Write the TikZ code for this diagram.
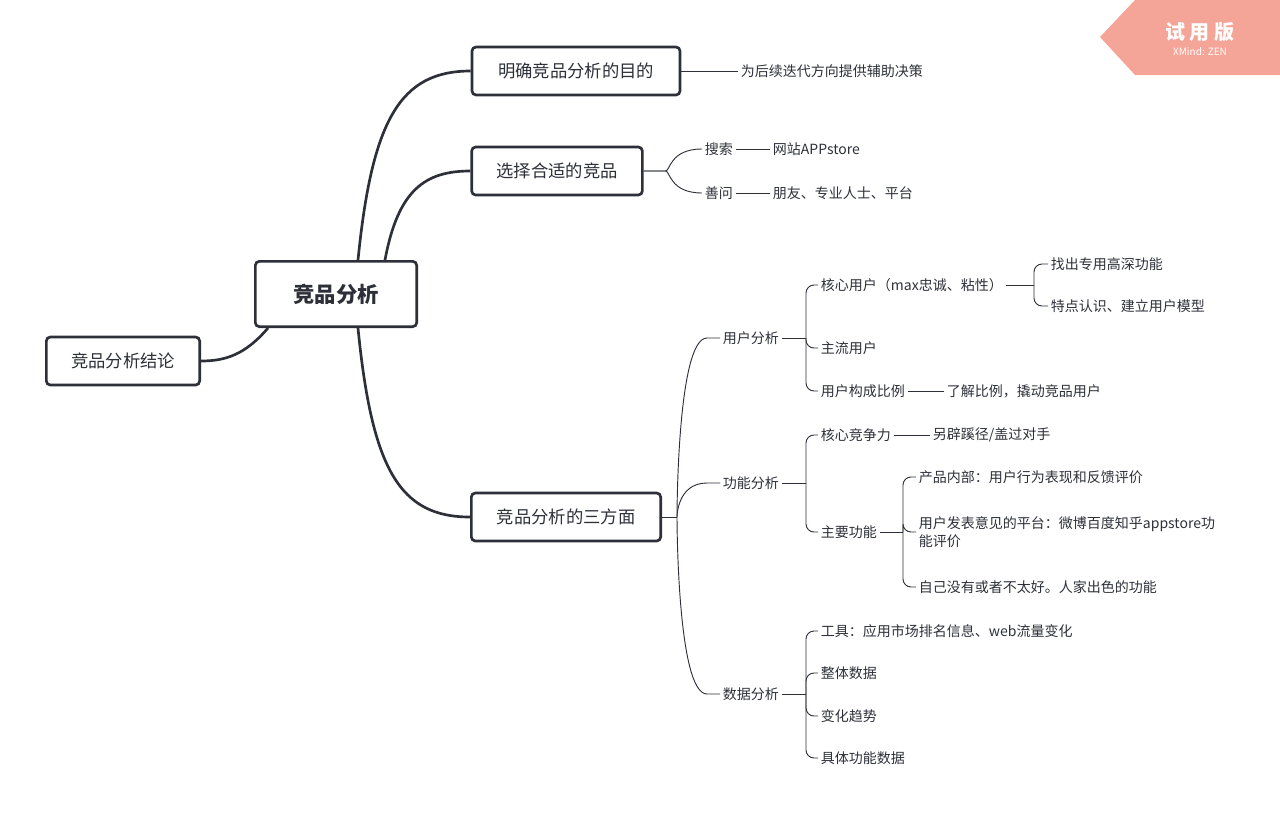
\documentclass[tikz,border=0pt]{standalone}
\usepackage{fontspec}
\setmainfont{Noto Sans CJK SC}
\usetikzlibrary{positioning,calc}
\definecolor{ink}{HTML}{2D3038}
\definecolor{badge}{HTML}{F5A597}
\tikzset{
	topic/.style={draw=ink, line width=2pt, rounded corners=3pt, fill=white,
		minimum height=36pt, inner xsep=12pt, font=\fontsize{13}{15}\selectfont, text=ink},
	leaf/.style={anchor=west, inner sep=2pt, font=\fontsize{10.5}{13}\selectfont, text=ink},
	trunk/.style={draw=ink, line width=2pt},
	twig/.style={draw=ink, line width=0.7pt, rounded corners=6pt}
}
\begin{document}
\begin{tikzpicture}[x=0.75pt,y=-0.75pt]
\useasboundingbox (0,0) rectangle (1280,821);

% Badge
\fill[badge] (1100,37) -- (1135,0) -- (1280,0) -- (1280,75) -- (1135,75) -- cycle;
\node[text=white, font=\fontsize{15}{17}\selectfont\bfseries] (trial) at (1200,32) {试 用 版};
\node[text=white, font=\fontsize{7.5}{9}\selectfont, below=-3pt of trial] (zen) {XMind: ZEN};

% Topics
\node[topic, minimum width=121pt, minimum height=49pt, font=\fontsize{16}{19}\selectfont\bfseries] (root) at (336,294) {竞品分析};
\node[topic, minimum width=115pt] (concl) at (123,361) {竞品分析结论};
\node[topic, minimum width=156pt] (goal) at (576,71) {明确竞品分析的目的};
\node[topic, minimum width=128pt] (pick) at (557,171) {选择合适的竞品};
\node[topic, minimum width=142pt] (three) at (566,517) {竞品分析的三方面};

% Trunks
\draw[trunk] ($(root.north)+(22,0)$) .. controls (372,120) and (400,71) .. (goal.west);
\draw[trunk] ($(root.north)+(49,0)$) .. controls (398,190) and (425,171) .. (pick.west);
\draw[trunk] ($(root.south)+(22,0)$) .. controls (372,470) and (400,517) .. (three.west);
\draw[trunk] ($(root.south)+(-68,0)$) .. controls (245,355) and (225,361) .. (concl.east);

% Goal branch
\node[leaf] (goal-1) at (738,71) {为后续迭代方向提供辅助决策};
\draw[twig] (goal.east) -- (goal-1.west);

% Pick branch
\node[leaf] (pick-1) at (702,149) {搜索};
\node[leaf] (pick-2) at (702,193) {善问};
\node[leaf] (pick-1-1) at (770,149) {网站APPstore};
\node[leaf] (pick-2-1) at (770,193) {朋友、专业人士、平台};
\foreach \c in {1,2}
{
	\draw[twig] (pick.east) -- ++(14,0) .. controls (670,171) and (670,\c*44+105) .. (pick-\c.west);
	\draw[twig] (pick-\c.east) -- (pick-\c-1.west);
}

% Three aspects
\node[leaf] (user) at (720,338) {用户分析};
\node[leaf] (func) at (720,483) {功能分析};
\node[leaf] (data) at (720,694) {数据分析};
\draw[twig] (three.east) -- ++(15,0) coordinate (fork);
\foreach \n in {user,func,data}
	\draw[line width=0.7pt, draw=ink] (fork) .. controls ($(fork)+(0,0)$) and (fork |- \n.west) .. ($(fork |- \n.west)+(30,0)$) -- (\n.west);

% User analysis
\node[leaf] (user-1) at (818,285) {核心用户（max忠诚、粘性）};
\node[leaf] (user-2) at (818,348) {主流用户};
\node[leaf] (user-3) at (818,391) {用户构成比例};
\coordinate (user-spine) at (806,338);
\draw[twig] (user.east) -- (user-spine);
\foreach \c in {1,2,3}
	\draw[twig] (user-spine) |- (user-\c.west);
\node[leaf] (user-1-1) at (1048,264) {找出专用高深功能};
\node[leaf] (user-1-2) at (1048,306) {特点认识、建立用户模型};
\coordinate (core-spine) at (1034,285);
\draw[twig] (user-1.east) -- (core-spine);
\foreach \c in {1,2}
	\draw[twig] (core-spine) |- (user-1-\c.west);
\node[leaf] (user-3-1) at (944,391) {了解比例，撬动竞品用户};
\draw[twig] (user-3.east) -- (user-3-1.west);

% Function analysis
\node[leaf] (func-1) at (818,435) {核心竞争力};
\node[leaf] (func-2) at (818,532) {主要功能};
\coordinate (func-spine) at (806,483);
\draw[twig] (func.east) -- (func-spine);
\foreach \c in {1,2}
	\draw[twig] (func-spine) |- (func-\c.west);
\node[leaf] (func-1-1) at (930,435) {另辟蹊径/盖过对手};
\draw[twig] (func-1.east) -- (func-1-1.west);
\node[leaf] (func-2-1) at (916,477) {产品内部：用户行为表现和反馈评价};
\node[leaf, align=left] (func-2-2) at (916,532) {用户发表意见的平台：微博百度知乎appstore功\\能评价};
\node[leaf] (func-2-3) at (916,587) {自己没有或者不太好。人家出色的功能};
\coordinate (main-spine) at (903,532);
\draw[twig] (func-2.east) -- (main-spine);
\foreach \c in {1,2,3}
	\draw[twig] (main-spine) |- (func-2-\c.west);

% Data analysis
\node[leaf] (data-1) at (818,631) {工具：应用市场排名信息、web流量变化};
\node[leaf] (data-2) at (818,673) {整体数据};
\node[leaf] (data-3) at (818,716) {变化趋势};
\node[leaf] (data-4) at (818,758) {具体功能数据};
\coordinate (data-spine) at (806,694);
\draw[twig] (data.east) -- (data-spine);
\foreach \c in {1,...,4}
	\draw[twig] (data-spine) |- (data-\c.west);

\end{tikzpicture}
\end{document}
